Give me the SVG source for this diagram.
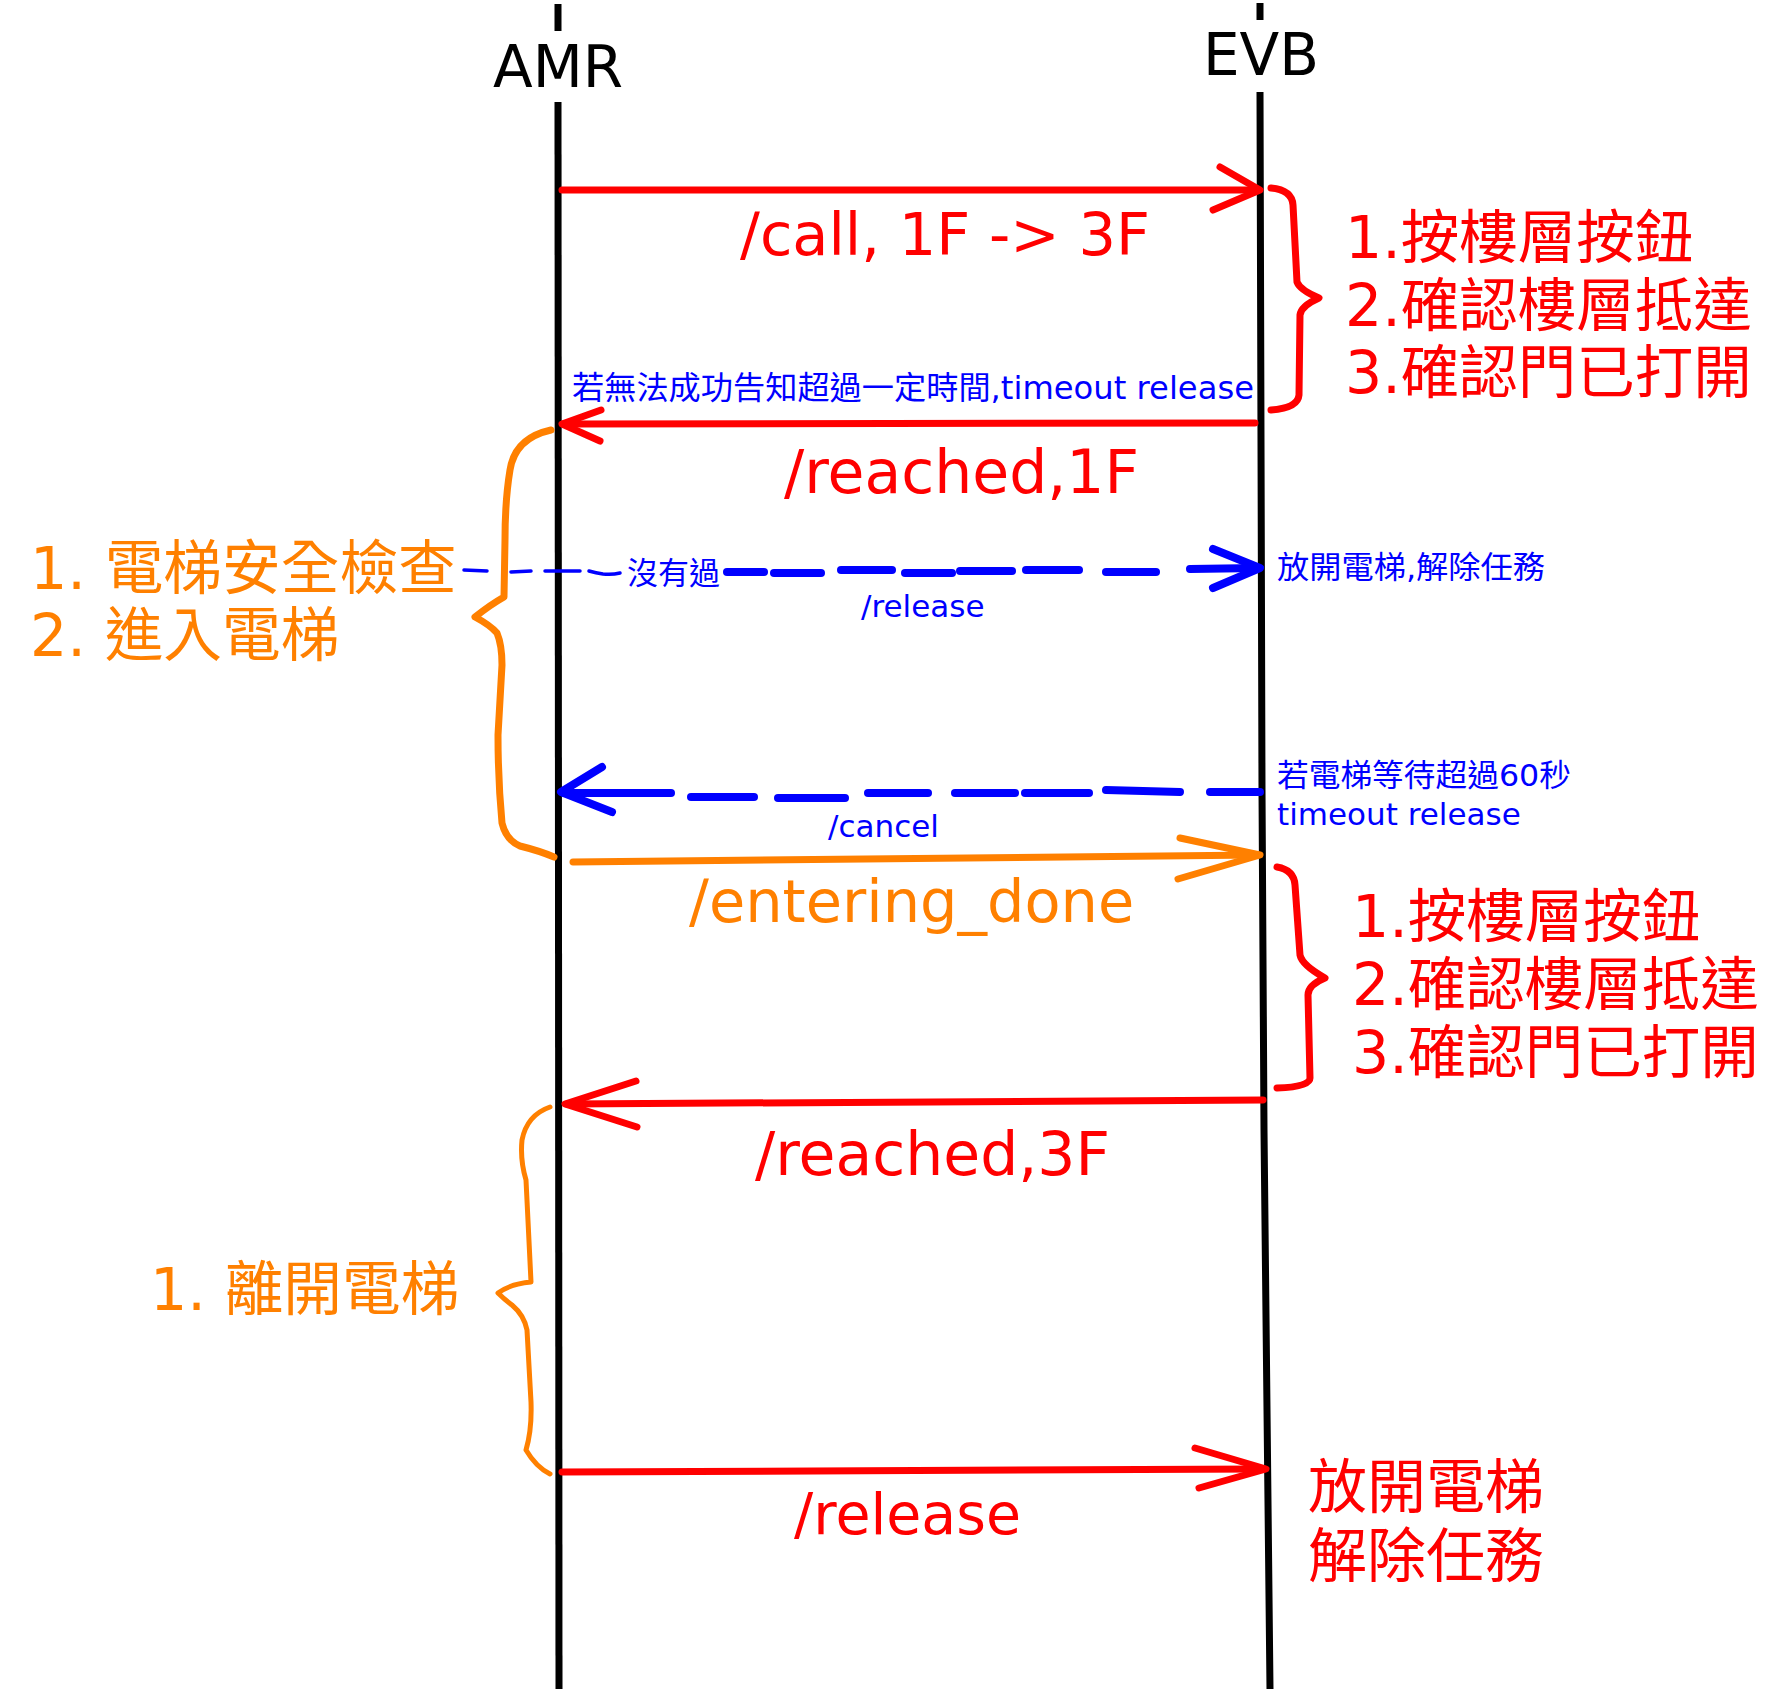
<svg xmlns="http://www.w3.org/2000/svg" width="1773" height="1689" viewBox="0 0 1773 1689">
<style>
text{font-family:"DejaVu Sans","Noto Sans CJK TC",sans-serif}
.life{stroke:#000;stroke-width:7;fill:none}
.red{stroke:#ff0000;stroke-width:7;fill:none;stroke-linecap:round;stroke-linejoin:round}
.org{stroke:#ff8000;stroke-width:7;fill:none;stroke-linecap:round;stroke-linejoin:round}
.blu{stroke:#0000ff;stroke-width:8;fill:none;stroke-linecap:round;stroke-linejoin:round}
.blut{stroke:#0000ff;stroke-width:3.5;fill:none;stroke-linecap:round}
.tr{fill:#ff0000}
.to{fill:#ff8000}
.tb{fill:#0000ff}
.tk{fill:#000}
</style>
<rect width="1773" height="1689" fill="#fff"/>
<g id="AMR">
<line class="life" x1="558" y1="4" x2="558" y2="31"/>
<line class="life" x1="558" y1="102" x2="559" y2="1689"/>
<text class="tk" x="558" y="87" font-size="58" text-anchor="middle">AMR</text>
</g>
<g id="EVB">
<line class="life" x1="1260" y1="3" x2="1260" y2="20"/>
<polyline class="life" points="1260,92 1262,790 1264,1130 1270,1689"/>
<text class="tk" x="1261" y="75" font-size="58" text-anchor="middle">EVB</text>
</g>
<g id="note-top-right">
<path class="red" d="M1271,188 Q1292,190 1293,205 L1297,282 Q1300,290 1319,298 Q1301,306 1300,315 L1299,395 Q1298,408 1271,410"/>
<text class="tr" font-size="58.5"><tspan x="1345" y="258">1.按樓層按鈕</tspan><tspan x="1345" y="326">2.確認樓層抵達</tspan><tspan x="1345" y="393">3.確認門已打開</tspan></text>
</g>
<g id="note-mid-right">
<path class="red" d="M1277,867 Q1294,870 1295,885 L1300,955 Q1302,965 1325,978 Q1308,985 1308,995 L1310,1078 Q1310,1087 1277,1088"/>
<text class="tr" font-size="58.5"><tspan x="1352" y="937">1.按樓層按鈕</tspan><tspan x="1352" y="1005">2.確認樓層抵達</tspan><tspan x="1352" y="1073">3.確認門已打開</tspan></text>
</g>
<g id="note-enter-left">
<path class="org" d="M551,430 Q515,438 510,470 Q505,500 505,540 L504,597 Q490,605 475,617 Q490,625 497,633 Q502,645 502,665 L498,735 Q498,780 502,823 Q506,840 520,846 Q540,851 554,857"/>
<text class="to" font-size="58.7"><tspan x="30" y="589">1. 電梯安全檢查</tspan><tspan x="30" y="656">2. 進入電梯</tspan></text>
</g>
<g id="note-leave-left">
<path class="org" style="stroke-width:5" d="M550,1107 Q527,1115 522,1140 Q520,1160 526,1180 L531,1282 Q510,1284 498,1293 Q505,1300 512,1305 Q524,1315 527,1330 L531,1402 Q532,1430 526,1450 Q536,1467 550,1474"/>
<text class="to" x="150" y="1310" font-size="58.7">1. 離開電梯</text>
</g>
<g id="note-release-right">
<text class="tr" font-size="59"><tspan x="1308" y="1508">放開電梯</tspan><tspan x="1308" y="1577">解除任務</tspan></text>
</g>
<g id="connectors">
<g id="call">
<line class="red" x1="562" y1="190" x2="1258" y2="190"/>
<polyline class="red" points="1220,167 1260,190 1213,210"/>
<text class="tr" x="740" y="255" font-size="59">/call, 1F -&gt; 3F</text>
</g>
<g id="reached1F">
<line class="red" x1="1255" y1="423" x2="563" y2="424"/>
<polyline class="red" points="601,410 562,424 600,441"/>
<text class="tb" x="572" y="399" font-size="32" textLength="682" lengthAdjust="spacingAndGlyphs">若無法成功告知超過一定時間,timeout release</text>
<text class="tr" x="784" y="493" font-size="60">/reached,1F</text>
</g>
<g id="release-blue">
<line class="blut" x1="464" y1="570" x2="487" y2="571"/>
<line class="blut" x1="511" y1="572" x2="531" y2="571"/>
<line class="blut" x1="545" y1="571" x2="580" y2="571"/>
<path class="blut" d="M589,571 Q596,573 603,574 Q612,575 620,573"/>
<text class="tb" x="627" y="584" font-size="31">沒有過</text>
<line class="blu" x1="727" y1="572" x2="764" y2="572"/>
<line class="blu" x1="774" y1="573" x2="821" y2="573"/>
<line class="blu" x1="841" y1="570" x2="892" y2="570"/>
<line class="blu" x1="905" y1="573" x2="952" y2="573"/>
<line class="blu" x1="960" y1="571" x2="1012" y2="571"/>
<line class="blu" x1="1026" y1="570" x2="1079" y2="570"/>
<line class="blu" x1="1106" y1="572" x2="1156" y2="572"/>
<line class="blu" x1="1190" y1="569" x2="1258" y2="568"/>
<polyline class="blu" points="1213,549 1260,568 1213,588"/>
<text class="tb" x="861" y="617" font-size="31">/release</text>
<text class="tb" x="1277" y="578" font-size="31" textLength="268" lengthAdjust="spacingAndGlyphs">放開電梯,解除任務</text>
</g>
<g id="cancel">
<line class="blu" x1="1210" y1="792" x2="1260" y2="792"/>
<line class="blu" x1="1106" y1="790" x2="1180" y2="792"/>
<line class="blu" x1="1025" y1="793" x2="1089" y2="793"/>
<line class="blu" x1="955" y1="793" x2="1015" y2="793"/>
<line class="blu" x1="868" y1="793" x2="928" y2="793"/>
<line class="blu" x1="778" y1="798" x2="845" y2="798"/>
<line class="blu" x1="691" y1="797" x2="754" y2="797"/>
<line class="blu" x1="564" y1="793" x2="671" y2="793"/>
<polyline class="blu" points="602,767 561,792 612,812"/>
<text class="tb" font-size="31"><tspan x="1277" y="786" textLength="294" lengthAdjust="spacingAndGlyphs">若電梯等待超過60秒</tspan></text>
<text class="tb" x="1277" y="825" font-size="31">timeout release</text>
<text class="tb" x="828" y="837" font-size="31">/cancel</text>
</g>
<g id="entering-done">
<line class="org" x1="573" y1="862" x2="1258" y2="855"/>
<polyline class="org" points="1180,838 1260,855 1178,879"/>
<text class="to" x="689" y="922" font-size="59">/entering_done</text>
</g>
<g id="reached3F">
<line class="red" x1="1263" y1="1100" x2="567" y2="1104"/>
<polyline class="red" points="636,1081 565,1104 637,1127"/>
<text class="tr" x="755" y="1175" font-size="60">/reached,3F</text>
</g>
<g id="release-red">
<line class="red" x1="562" y1="1472" x2="1264" y2="1469"/>
<polyline class="red" points="1195,1448 1266,1469 1199,1488"/>
<text class="tr" x="794" y="1534" font-size="57">/release</text>
</g>
</g>
</svg>
